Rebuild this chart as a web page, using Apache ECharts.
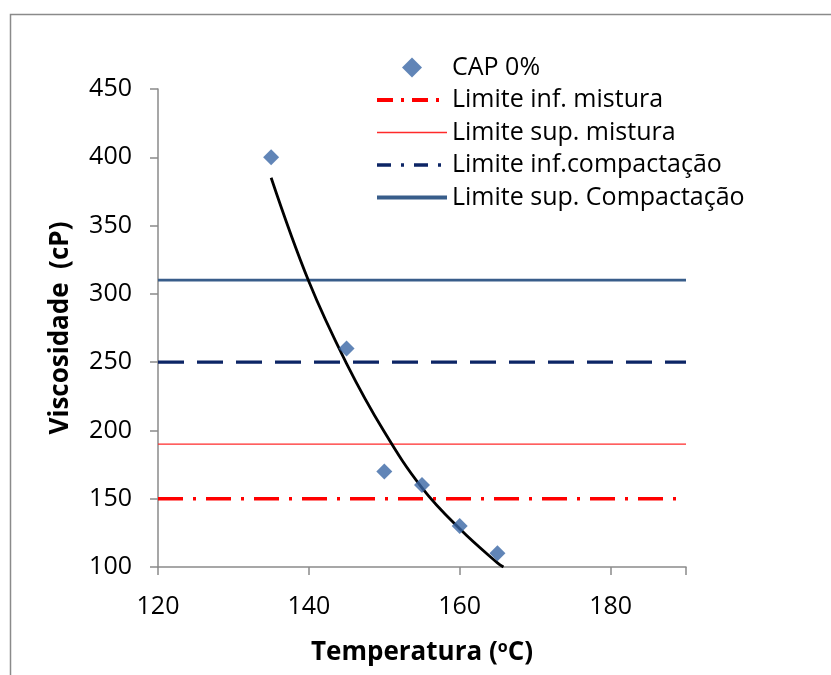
<!DOCTYPE html>
<html>
<head>
<meta charset="utf-8">
<script src="https://cdn.jsdelivr.net/npm/echarts@6/dist/echarts.min.js"></script>
<style>
  html, body { margin: 0; padding: 0; background: #fff; }
  #chart { width: 831px; height: 675px; }
</style>
</head>
<body>
<div id="chart"></div>
<script>
// Measured viscosity of CAP 0% at each test temperature
const temperatures = [135, 145, 150, 155, 160, 165];
const viscosities = [400, 260, 170, 160, 130, 110];

// Trend curve through the measurements (temperature, viscosity)
const trendTemps = [135, 140, 145, 150, 155, 160, 165, 165.8];
const trendVisc = [385, 309, 249, 199, 158, 128, 103, 100];

// Working limits (cP), drawn across the whole temperature range
const limitSpan = [120, 190];
const limInfMistura = 150;
const limSupMistura = 190;
const limInfCompactacao = 250;
const limSupCompactacao = 310;

// Axis settings
const xMin = 120, xMax = 190, xStep = 20;
const yMin = 100, yMax = 450, yStep = 50;

const FONT = '"Open Sans", "Liberation Sans", sans-serif';
const MARKER = '#3a67a5';

function pairs(xs, ys) { return xs.map((x, i) => [x, ys[i]]); }
function flat(v) { return limitSpan.map(x => [x, v]); }

// Line styles shared by the plotted limits and their legend keys
const styleInfMistura = { color: '#ff0000', width: 3.5, type: [25, 10, 3, 10] };
const styleSupMistura = { color: '#ff2a2a', width: 1.3, type: 'solid' };
const styleInfCompact = { color: '#0c2565', width: 3.3, type: [26, 13] };
const styleSupCompact = { color: '#385d8a', width: 2.8, type: 'solid' };

const hiddenMark = { opacity: 0, color: 'transparent', borderWidth: 0 };

const chart = echarts.init(document.getElementById('chart'), null, { renderer: 'canvas' });

chart.setOption({
  backgroundColor: '#ffffff',
  animation: false,
  graphic: [{
    type: 'rect',
    left: 8, top: 12,
    shape: { width: 900, height: 800 },
    style: { fill: 'none', stroke: '#8a8a8a', lineWidth: 1.5 },
    silent: true
  }],
  grid: { left: 158, right: 145, top: 89, bottom: 108 },
  legend: {
    orient: 'vertical',
    left: 370, top: 50,
    itemWidth: 70, itemHeight: 20,
    itemGap: 7.5,
    symbolKeepAspect: true,
    textStyle: { fontFamily: FONT, fontSize: 25, color: '#000' },
    data: [
      { name: 'CAP 0%', icon: 'path://M5,0 L10,5 L5,10 L0,5 Z', itemStyle: { color: MARKER } },
      { name: 'Limite inf. mistura', itemStyle: hiddenMark, lineStyle: { color: '#ff0000', width: 4, type: [16, 8, 3, 8] } },
      { name: 'Limite sup. mistura', itemStyle: hiddenMark, lineStyle: styleSupMistura },
      { name: 'Limite inf.compactação', itemStyle: hiddenMark, lineStyle: { color: '#0c2565', width: 3.5, type: [14, 10, 3, 10] } },
      { name: 'Limite sup. Compactação', itemStyle: hiddenMark, lineStyle: { color: '#385d8a', width: 4, type: 'solid' } }
    ]
  },
  xAxis: {
    type: 'value', min: xMin, max: xMax, interval: xStep,
    name: '{b|Temperatura (}{s|o}{b|C)}',
    nameLocation: 'middle', nameGap: 72,
    nameTextStyle: {
      rich: {
        b: { fontFamily: FONT, fontWeight: 'bold', fontSize: 26, color: '#000' },
        s: { fontFamily: FONT, fontWeight: 'bold', fontSize: 16, color: '#000', verticalAlign: 'top', padding: [0, 0, 12, 0] }
      }
    },
    axisLine: { show: true, onZero: false, lineStyle: { color: '#8a8a8a', width: 1.5 } },
    axisTick: { show: true, inside: false, length: 8, lineStyle: { color: '#8a8a8a', width: 1.5 } },
    axisLabel: {
      margin: 27, fontFamily: FONT, fontSize: 25, color: '#000',
      formatter: v => (v === xMax ? '' : String(v))
    },
    splitLine: { show: false }
  },
  yAxis: {
    type: 'value', min: yMin, max: yMax, interval: yStep,
    name: 'Viscosidade  (cP)',
    nameLocation: 'middle', nameGap: 84,
    nameTextStyle: { fontFamily: FONT, fontWeight: 'bold', fontSize: 26, color: '#000' },
    axisLine: { show: true, onZero: false, lineStyle: { color: '#8a8a8a', width: 1.5 } },
    axisTick: { show: true, inside: false, length: 8, lineStyle: { color: '#8a8a8a', width: 1.5 } },
    axisLabel: { margin: 26, fontFamily: FONT, fontSize: 25, color: '#000' },
    splitLine: { show: false }
  },
  series: [
    {
      name: 'CAP 0%', type: 'scatter',
      symbol: 'diamond', symbolSize: 16,
      itemStyle: { color: MARKER },
      data: pairs(temperatures, viscosities),
      z: 5
    },
    {
      name: 'Limite inf. mistura', type: 'line', symbol: 'none',
      itemStyle: { color: styleInfMistura.color },
      lineStyle: styleInfMistura,
      data: flat(limInfMistura)
    },
    {
      name: 'Limite sup. mistura', type: 'line', symbol: 'none',
      itemStyle: { color: styleSupMistura.color },
      lineStyle: styleSupMistura,
      data: flat(limSupMistura)
    },
    {
      name: 'Limite inf.compactação', type: 'line', symbol: 'none',
      itemStyle: { color: styleInfCompact.color },
      lineStyle: styleInfCompact,
      data: flat(limInfCompactacao)
    },
    {
      name: 'Limite sup. Compactação', type: 'line', symbol: 'none',
      itemStyle: { color: styleSupCompact.color },
      lineStyle: styleSupCompact,
      data: flat(limSupCompactacao)
    },
    {
      name: 'Tendência', type: 'line', symbol: 'none', smooth: 0.4,
      itemStyle: { color: '#000' },
      lineStyle: { color: '#000', width: 2.8 },
      data: pairs(trendTemps, trendVisc),
      z: 4
    }
  ]
});
</script>
</body>
</html>
